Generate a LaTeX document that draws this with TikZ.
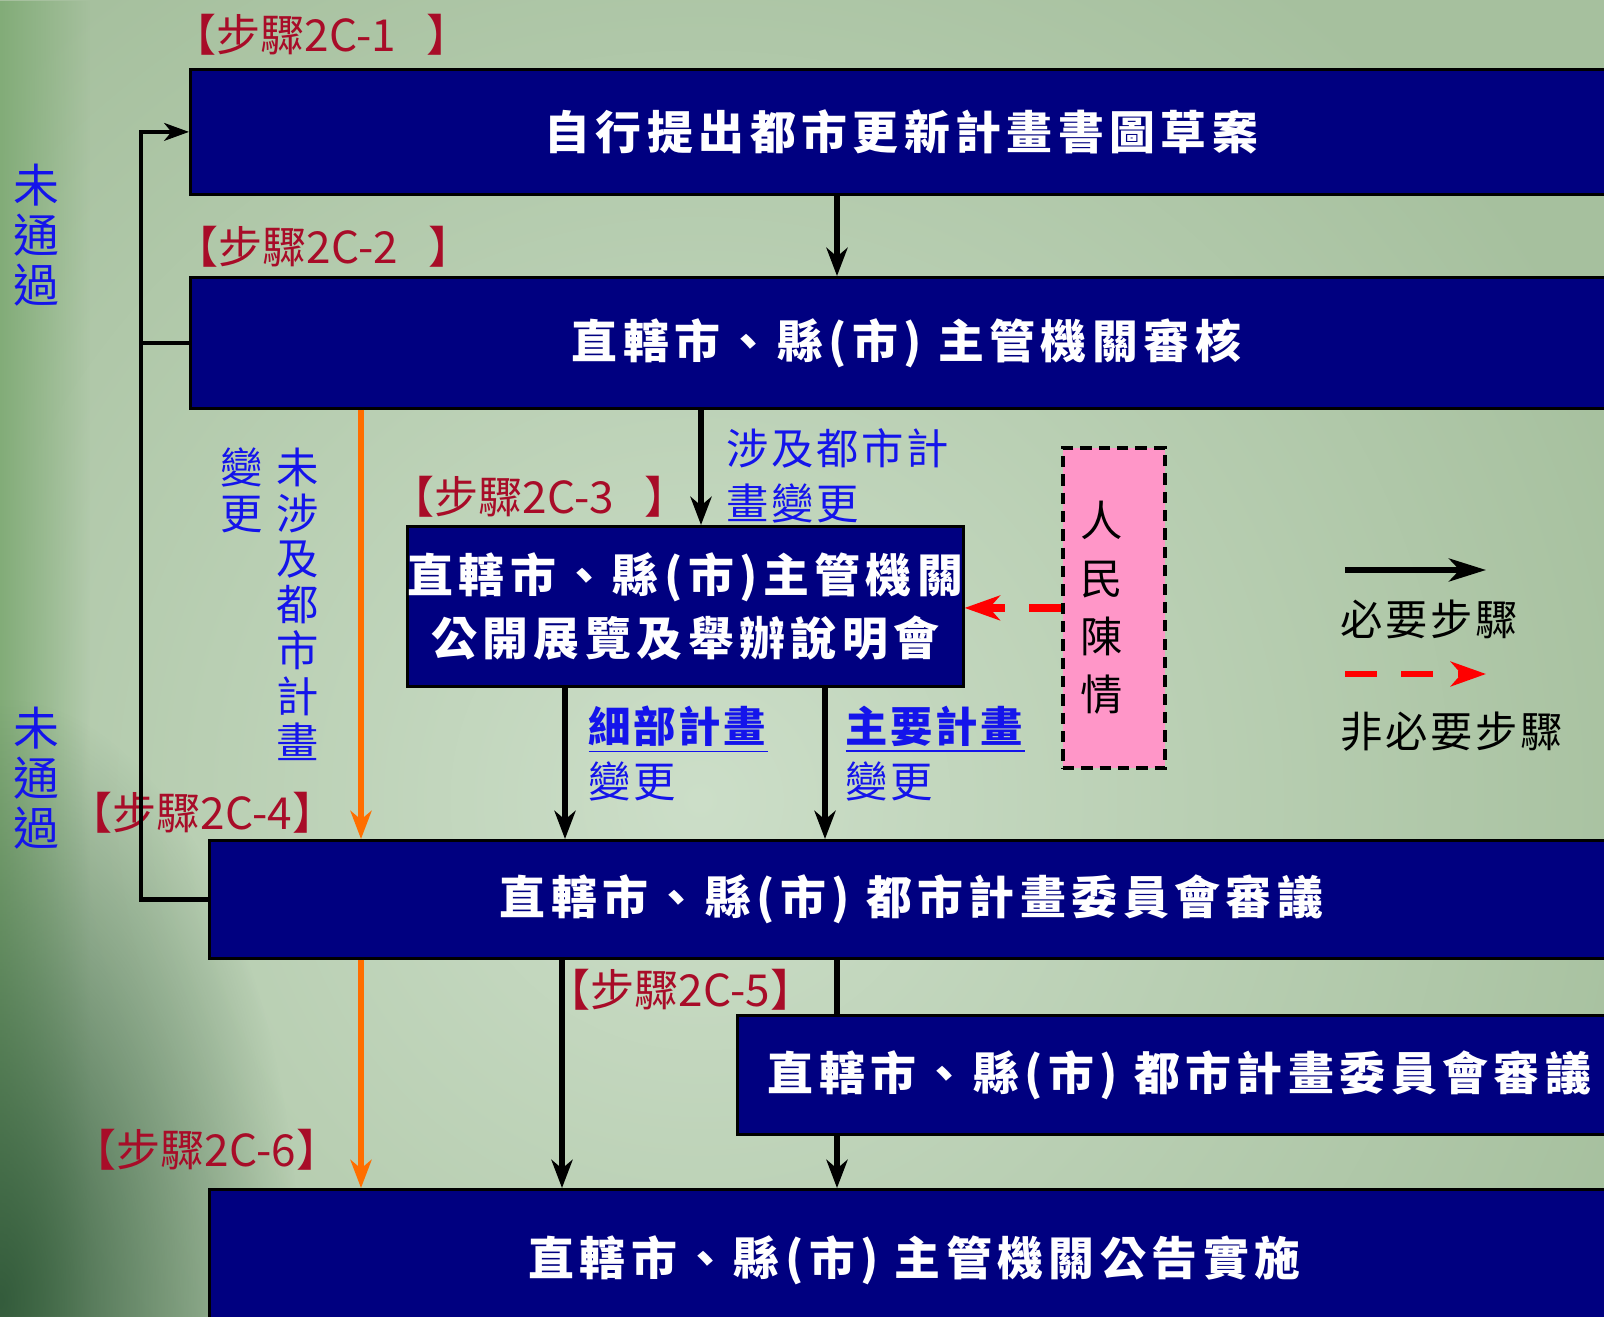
\documentclass[tikz,border=0pt]{standalone}
\usepackage{fontspec}
\setmainfont{Noto Sans CJK TC}
\newfontfamily\boxfont[LetterSpace=12]{Noto Sans CJK TC}
\newfontfamily\notefont[LetterSpace=6]{Noto Sans CJK TC}
\usepackage{tikz}
\usetikzlibrary{arrows,arrows.meta,positioning,fadings}
\definecolor{boxblue}{RGB}{0,0,128}
\definecolor{stepred}{RGB}{168,12,40}
\definecolor{noteblue}{RGB}{20,20,235}
\definecolor{pinkfill}{RGB}{255,150,200}
\definecolor{orangeline}{RGB}{255,110,0}
\definecolor{bgpale}{RGB}{204,222,200}
\definecolor{bgouter}{RGB}{166,192,158}
\definecolor{bgdark}{RGB}{52,92,60}
\definecolor{bgleft}{RGB}{130,172,120}
\newcommand{\pxu}{0.2835pt}
\newcommand{\Step}[1]{\textcolor{stepred}{#1}}
\tikzfading[name=cornerfade,inner color=transparent!0,outer color=transparent!100]
\tikzset{
  stepbox/.style={draw=black,line width=0.8pt,fill=boxblue,text=white,anchor=north west,inner sep=0pt,
    font=\boxfont\bfseries\fontsize{13}{18}\selectfont},
  steplabel/.style={anchor=west,inner sep=0pt,font=\fontsize{12.5}{15}\selectfont},
  note/.style={inner sep=0pt,text=noteblue,font=\notefont\fontsize{12}{15.6}\selectfont,align=left},
  column/.style={inner sep=0pt,text=noteblue,anchor=north,font=\fontsize{12}{13}\selectfont,align=center},
  must/.style={line width=1.6pt,-{Stealth[length=8pt,width=6pt,inset=2.5pt]}},
  maybe/.style={red,line width=2.2pt,dash pattern=on 9pt off 7pt,-{Stealth[length=10pt,width=7pt,inset=3pt]}},
  skip/.style={orangeline,line width=1.5pt,-{Stealth[length=8pt,width=6pt,inset=2.5pt]}},
  loopline/.style={line width=1.2pt},
}

\begin{document}
\begin{tikzpicture}[x=0.2835pt,y=-0.2835pt]
\useasboundingbox (0,0) rectangle (1604,1316);
\clip (0,0) rectangle (1604,1316);
% background
\shade[inner color=bgpale,outer color=bgouter] (-300,-200) rectangle (1700,1800);
\fill[bgleft,path fading=east] (0,0) rectangle (90,1316);
\fill[bgdark,path fading=cornerfade] (-300,700) rectangle (300,1900);
%
\node[stepbox,minimum width=1422*\pxu,minimum height=125*\pxu] (draft) at (189,68) {自行提出都市更新計畫書圖草案};
\node[stepbox,minimum width=1432*\pxu,minimum height=131*\pxu] (review) at (189,276) {直轄市、縣(市) 主管機關審核};
\node[stepbox,minimum width=551*\pxu,minimum height=160*\pxu,align=center] (exhibit) at (406,525) {直轄市、縣(市)主管機關\\公開展覽及舉辦說明會};
\node[stepbox,minimum width=1404*\pxu,minimum height=118*\pxu] (council) at (208,839) {直轄市、縣(市) 都市計畫委員會審議};
\node[stepbox,minimum width=884*\pxu,minimum height=119*\pxu] (council2) at (736,1014) {直轄市、縣(市) 都市計畫委員會審議};
\node[stepbox,minimum width=1410*\pxu,minimum height=142*\pxu] (announce) at (208,1188) {直轄市、縣(市) 主管機關公告實施};
\node[draw=black,line width=1.1pt,dash pattern=on 3.2pt off 2pt,fill=pinkfill,anchor=north west,
  minimum width=102*\pxu,minimum height=320*\pxu,inner xsep=18*\pxu,inner ysep=0pt,text width=66*\pxu,align=left,
  font=\fontsize{12}{16.4}\selectfont] (petition) at (1061,446) {人\\民\\陳\\情};
%
\node[steplabel] (lab1) at (172,35) {\Step{【步驟2C-1\hspace{0.7em}】}};
\node[steplabel] (lab2) at (174,247) {\Step{【步驟2C-2\hspace{0.7em}】}};
\node[steplabel] (lab3) at (390,497) {\Step{【步驟2C-3\hspace{0.7em}】}};
\node[steplabel] (lab4) at (68,813) {\Step{【步驟2C-4】}};
\node[steplabel] (lab5) at (546,990) {\Step{【步驟2C-5】}};
\node[steplabel] (lab6) at (72,1150) {\Step{【步驟2C-6】}};
%
\node[column,font=\fontsize{13}{14.2}\selectfont] (fail1) at (36,163) {未\\通\\過};
\node[column,font=\fontsize{13}{14.2}\selectfont] (fail2) at (36,706) {未\\通\\過};
\node[column] (nochg1) at (242,447) {變\\更};
\node[column] (nochg2) at (298,447) {未\\涉\\及\\都\\市\\計\\畫};
\node[note,anchor=north west] (withchg) at (726,428) {涉及都市計\\畫變更};
\node[note,anchor=north west] (detail) at (588,705) {\underline{\textbf{細部計畫}}\\變更};
\node[note,anchor=north west] (main) at (845,705) {\underline{\textbf{主要計畫}}\\變更};
%
\coordinate (back) at (141,0);
\coordinate (colA) at (837,0);
\coordinate (colB) at (701,0);
\coordinate (colC) at (565,0);
\coordinate (colD) at (825,0);
\coordinate (colE) at (562,0);
\coordinate (colO) at (361,0);
\draw[must] (draft.south -| colA) -- (review.north -| colA);
\draw[must] (review.south -| colB) -- (exhibit.north -| colB);
\draw[must] (exhibit.south -| colC) -- (council.north -| colC);
\draw[must] (exhibit.south -| colD) -- (council.north -| colD);
\draw[must] (council.south -| colE) -- (announce.north -| colE);
\draw[line width=1.6pt] (council.south -| colA) -- (council2.north -| colA);
\draw[must] (council2.south -| colA) -- (announce.north -| colA);
\draw[skip] (review.south -| colO) -- (council.north -| colO);
\draw[skip] (council.south -| colO) -- (announce.north -| colO);
\draw[maybe] (petition.west) -- (exhibit.east |- petition.west);
% loop back
\draw[loopline,-{Stealth[length=7pt,width=5pt,inset=2pt]}] (council.west) -- (council.west -| back) -- (draft.west -| back) -- (draft.west);
\draw[loopline] (review.west) -- (review.west -| back);
% legend
\coordinate (legA) at (1345,570);
\coordinate (legB) at (1486,570);
\coordinate (legC) at (1345,674);
\coordinate (legD) at (1486,674);
\draw[line width=1.7pt,-{Stealth[length=10.5pt,width=6.5pt,inset=3pt]}] (legA) -- (legB);
\draw[maybe,line width=1.8pt] (legC) -- (legD);
\node[anchor=west,inner sep=0pt,font=\notefont\fontsize{12}{14}\selectfont] (legmust) at (1340,619) {必要步驟};
\node[anchor=west,inner sep=0pt,font=\notefont\fontsize{12}{14}\selectfont] (legmaybe) at (1340,732) {非必要步驟};
\end{tikzpicture}
\end{document}
